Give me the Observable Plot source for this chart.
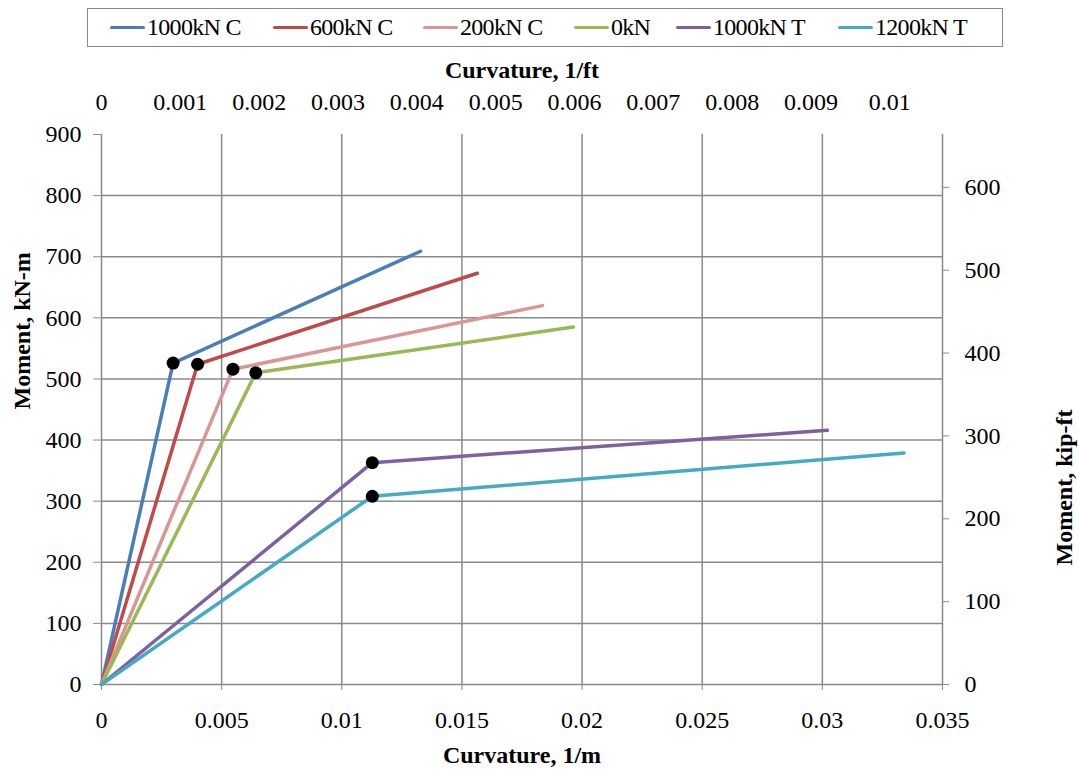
<!DOCTYPE html>
<html>
<head>
<meta charset="utf-8">
<script src="https://cdn.jsdelivr.net/npm/d3@7"></script>
<script src="https://cdn.jsdelivr.net/npm/@observablehq/plot@0.6"></script>
<style>
  html, body { margin: 0; padding: 0; background: #fff; }
  #wrap { position: relative; width: 1079px; height: 775px; font-family: "Liberation Serif", "Times New Roman", serif; }
  #legend { position: absolute; left: 87px; top: 8px; width: 914px; height: 37px; border: 1.5px solid #888; background: #fff; }
  .item { position: absolute; top: 0; height: 37px; display: flex; align-items: center; font-size: 24px; letter-spacing: -0.7px; white-space: nowrap; }
  .sw { display: inline-block; width: 35px; height: 3.5px; border-radius: 2px; margin-right: 2px; }
  #chart svg text { font-family: "Liberation Serif", "Times New Roman", serif; }
</style>
</head>
<body>
<div id="wrap">
  <div id="chart"></div>
  <div id="legend"></div>
</div>
<script>
// Series
const series = ["1000kN C", "600kN C", "200kN C", "0kN", "1000kN T", "1200kN T"];
const colors = ["#4A7EBB", "#BE4B48", "#D99694", "#98B954", "#7D60A0", "#46AAC5"];
// Yield point (black dot) and ultimate point, curvature in 1/m, moment in kN-m
const yieldCurvature = [0.00298, 0.0040, 0.00547, 0.00642, 0.01127, 0.01127];
const yieldMoment    = [526, 524, 516, 510, 363, 308];
const ultCurvature   = [0.01328, 0.01564, 0.01835, 0.01964, 0.03021, 0.0334];
const ultMoment      = [709, 673, 620, 585, 416, 379];
// Ticks
const xTicks = [0, 0.005, 0.01, 0.015, 0.02, 0.025, 0.03, 0.035];
const yTicks = [0, 100, 200, 300, 400, 500, 600, 700, 800, 900];
const xTicksFt = [0, 0.001, 0.002, 0.003, 0.004, 0.005, 0.006, 0.007, 0.008, 0.009, 0.01];
const yTicksKip = [0, 100, 200, 300, 400, 500, 600];
const M_PER_FT = 0.3048;
const KNM_PER_KIPFT = 1.35582;

const rows = [];
series.forEach((s, i) => {
  rows.push({series: s, x: 0, y: 0});
  rows.push({series: s, x: yieldCurvature[i], y: yieldMoment[i]});
  rows.push({series: s, x: ultCurvature[i], y: ultMoment[i]});
});
const yieldRows = series.map((s, i) => ({series: s, x: yieldCurvature[i], y: yieldMoment[i]}));

const grid = "#8a8a8a";
const ff = "Liberation Serif";
const chart = Plot.plot({
  width: 1079,
  height: 775,
  marginTop: 134,
  marginLeft: 101,
  marginRight: 137,
  marginBottom: 91,
  x: {domain: [0, 0.035]},
  y: {domain: [0, 900]},
  color: {domain: series, range: colors},
  style: {fontFamily: "'Liberation Serif', 'Times New Roman', serif", fontSize: "24px", color: "#000", background: "#fff", overflow: "visible"},
  marks: [
    Plot.ruleX(xTicks.slice(1, -1), {stroke: grid, strokeWidth: 1.5}),
    Plot.ruleY(yTicks.slice(1, -1), {stroke: grid, strokeWidth: 1.5}),
    Plot.ruleX([0, 0.035], {stroke: grid, strokeWidth: 1.5}),
    Plot.ruleY([0], {stroke: grid, strokeWidth: 1.5}),
    Plot.axisX(xTicks, {anchor: "bottom", tickSize: 6, tickPadding: 20, stroke: grid, fill: "#000", fontFamily: ff, label: null, tickFormat: d => String(d)}),
    Plot.axisX(xTicksFt.map(t => t / M_PER_FT), {anchor: "top", tickSize: 0, tickPadding: 25, fill: "#000", fontFamily: ff, label: null, tickFormat: d => String(+(d * M_PER_FT).toFixed(4))}),
    Plot.axisY(yTicks, {anchor: "left", tickSize: 8, tickPadding: 12, stroke: grid, fill: "#000", fontFamily: ff, label: null, tickFormat: d => String(d)}),
    Plot.axisY(yTicksKip.map(k => k * KNM_PER_KIPFT), {anchor: "right", tickSize: 6, tickPadding: 16, stroke: grid, fill: "#000", fontFamily: ff, label: null, tickFormat: d => String(Math.round(d / KNM_PER_KIPFT))}),
    Plot.line(rows, {x: "x", y: "y", z: "series", stroke: "series", strokeWidth: 3.5, strokeLinecap: "round", strokeLinejoin: "round"}),
    Plot.dot(yieldRows, {x: "x", y: "y", r: 6.5, fill: "#000", stroke: null}),
    Plot.text(["Curvature, 1/m"], {frameAnchor: "bottom", dy: 78, text: d => d, fontWeight: "bold", fontSize: 24, fontFamily: ff}),
    Plot.text(["Curvature, 1/ft"], {frameAnchor: "top", dy: -74, text: d => d, fontWeight: "bold", fontSize: 24, fontFamily: ff}),
    Plot.text(["Moment, kN-m"], {frameAnchor: "left", dx: -79, rotate: -90, text: d => d, fontWeight: "bold", fontSize: 24, fontFamily: ff}),
    Plot.text(["Moment, kip-ft"], {frameAnchor: "right", dx: 122, rotate: -90, text: d => d, fontWeight: "bold", fontSize: 24, fontFamily: ff})
  ]
});
document.getElementById("chart").appendChild(chart);

// Legend
const legendX = [22, 185, 335, 486, 588, 750];
const legend = document.getElementById("legend");
series.forEach((s, i) => {
  const it = document.createElement("div");
  it.className = "item";
  it.style.left = legendX[i] + "px";
  const sw = document.createElement("span");
  sw.className = "sw";
  sw.style.background = colors[i];
  it.appendChild(sw);
  it.appendChild(document.createTextNode(s));
  legend.appendChild(it);
});
</script>
</body>
</html>
